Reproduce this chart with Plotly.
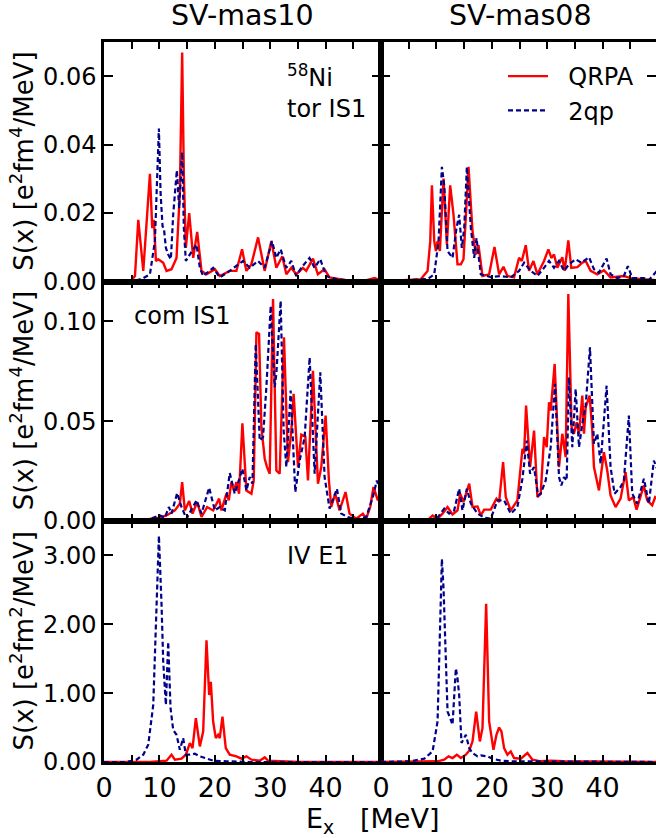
import plotly.graph_objects as go

# ---------------- data: (E_x [MeV], S(x)) ----------------
TOR_MAS10_QRPA = [(0,0),(4.98,0.0004),(5.59,0.0016),(6.19,0.0180),(7.09,0.0031),(8.29,0.0315),(8.71,0.0156),
    (9.01,0.0180),(9.37,0.0060),(9.79,0.0065),(10.69,0.0055),(11.29,0.0031),(12.19,0.0036),(13.09,0.0069),
    (13.69,0.0260),(14.11,0.0669),(14.41,0.0310),(14.77,0.0098),(15.38,0.0200),(16.10,0.0069),(16.82,0.0145),
    (17.60,0.0031),(18.50,0.0021),(20.0,0.0036),(20.9,0.0016),(22.7,0.0031),(23.9,0.0031),(24.92,0.0094),
    (25.7,0.0031),(26.6,0.0050),(27.81,0.0129),(29.0,0.0031),(30.21,0.0118),(31.11,0.0040),(32.19,0.0074),
    (32.91,0.0021),(33.81,0.0040),(34.7,0.0021),(35.9,0.0040),(36.5,0.0031),(37.72,0.0067),(38.6,0.0021),
    (39.8,0.0036),(40.7,0.0012),(43.7,0.0004),(46.7,0.0001),(48.83,0.0010),(49.7,0.0004),(50,0.0003)]
TOR_MAS10_2QP = [(0,0),(5.59,0.0002),(7.09,0.0010),(8.29,0.0021),(9.19,0.0118),(9.61,0.0290),(9.91,0.0447),
    (10.21,0.0260),(10.57,0.0161),(10.81,0.0156),(11.17,0.0098),(11.59,0.0079),(12.07,0.0065),(12.49,0.0195),
    (13.15,0.0325),(13.57,0.0214),(14.11,0.0378),(14.41,0.0156),(14.77,0.0060),(15.5,0.0079),(16.7,0.0108),
    (17.3,0.0040),(17.9,0.0016),(19.7,0.0040),(20.9,0.0012),(22.7,0.0031),(25.1,0.0060),(26.3,0.0040),
    (27.8,0.0060),(29.0,0.0040),(30.33,0.0118),(31.1,0.0069),(31.89,0.0094),(32.9,0.0040),(33.8,0.0060),
    (34.7,0.0016),(35.6,0.0040),(37.1,0.0069),(38.0,0.0040),(39.04,0.0065),(40.1,0.0016),(41.9,0.0007),
    (44.9,0.0002),(49.1,0.0004),(50,0.0003)]
TOR_MAS08_QRPA = [(0,0),(7.21,0.0007),(8.41,0.0031),(8.89,0.0118),(9.19,0.0281),(9.61,0.0118),(9.91,0.0089),
    (10.21,0.0118),(10.63,0.0089),(11.29,0.0301),(11.89,0.0108),(12.49,0.0281),(13.09,0.0195),(13.81,0.0050),
    (14.41,0.0050),(14.89,0.0065),(15.80,0.0335),(16.52,0.0147),(17.12,0.0079),(17.60,0.0106),(18.32,0.0016),
    (19.52,0.0021),(20.48,0.0101),(21.32,0.0021),(22.10,0.0043),(22.82,0.0016),(24.02,0.0012),(24.92,0.0069),
    (25.41,0.0060),(26.13,0.0106),(26.73,0.0031),(27.51,0.0060),(28.23,0.0021),(29.43,0.0060),(30.21,0.0094),
    (30.75,0.0069),(31.23,0.0079),(31.83,0.0040),(32.73,0.0071),(33.15,0.0031),(33.81,0.0120),(34.35,0.0040),
    (35.44,0.0042),(36.34,0.0055),(36.94,0.0060),(37.84,0.0031),(39.04,0.0021),(40.24,0.0033),(41.44,0.0012),
    (43.84,0.0016),(45.05,0.0010),(47.45,0.0007),(49.25,0.0004),(50,0.0003)]
TOR_MAS08_2QP = [(0,0),(8.41,0.0007),(9.61,0.0021),(10.39,0.0118),(10.99,0.0335),(11.41,0.0281),(12.01,0.0089),
    (12.91,0.0069),(13.63,0.0156),(14.11,0.0195),(14.59,0.0098),(15.02,0.0156),(15.50,0.0335),(16.22,0.0156),
    (16.82,0.0069),(17.24,0.0127),(18.02,0.0021),(19.82,0.0013),(21.62,0.0016),(23.42,0.0012),(24.92,0.0031),
    (25.83,0.0055),(27.03,0.0031),(28.23,0.0016),(29.43,0.0040),(30.33,0.0060),(31.23,0.0040),(32.13,0.0060),
    (33.03,0.0031),(33.93,0.0050),(35.14,0.0065),(36.16,0.0055),(37.54,0.0071),(38.44,0.0036),(39.34,0.0026),
    (40.72,0.0067),(41.44,0.0021),(42.64,0.0010),(43.84,0.0016),(44.56,0.0045),(45.35,0.0010),(47.45,0.0010),
    (48.35,0.0004),(49.25,0.0021),(50,0.0035)]

COM_MAS10_QRPA = [(0,0),(5.29,0),(8.29,0.0010),(10.09,0.0017),(11.29,0.0028),(12.79,0.0053),(13.69,0.0087),
    (14.11,0.0195),(14.59,0.0053),(15.38,0.0100),(15.98,0.0037),(16.82,0.0095),(17.60,0.0020),(18.62,0.0070),
    (19.70,0.0053),(20.78,0.0112),(21.20,0.0053),(22.10,0.0137),(22.52,0.0103),(23.00,0.0195),(23.48,0.0153),
    (23.90,0.0195),(24.38,0.0137),(24.98,0.0490),(25.71,0.0153),(26.61,0.0137),(27.03,0.0203),(27.51,0.0945),
    (27.99,0.0937),(28.41,0.0470),(29.01,0.0312),(29.43,0.0270),(29.91,0.0237),(30.51,0.1112),(31.11,0.0253),
    (31.71,0.0237),(32.49,0.0920),(33.21,0.0295),(33.81,0.0453),(34.23,0.0637),(35.02,0.0270),(35.62,0.0433),
    (36.34,0.0423),(36.82,0.0203),(37.72,0.0753),(38.62,0.0187),(39.22,0.0270),(40.00,0.0528),(40.60,0.0203),
    (41.02,0.0070),(41.74,0.0137),(42.52,0.0053),(43.60,0.0145),(44.32,0.0037),(45.53,0.0012),(46.73,0.0037),
    (47.33,0.0012),(48.05,0.0070),(48.65,0.0170),(49.43,0.0103),(50,0.0128)]
COM_MAS10_2QP = [(0,0),(5.29,0),(8.29,0.0010),(10.09,0.0028),(10.99,0.0017),(11.71,0.0070),(12.19,0.0037),
    (13.21,0.0140),(13.99,0.0070),(14.89,0.0012),(16.70,0.0103),(17.60,0.0037),(18.98,0.0167),(20.00,0.0053),
    (20.90,0.0070),(21.80,0.0053),(22.70,0.0240),(23.60,0.0137),(24.98,0.0262),(25.71,0.0153),(26.31,0.0220),
    (26.79,0.0187),(27.39,0.0887),(28.11,0.0403),(28.71,0.0420),(29.31,0.0670),(30.09,0.1078),(30.81,0.0670),
    (31.11,0.0737),(31.89,0.1103),(32.43,0.0453),(32.91,0.0270),(33.69,0.0653),(34.53,0.0145),(35.32,0.0303),
    (36.22,0.0420),(37.12,0.0820),(38.02,0.0237),(39.04,0.0745),(39.82,0.0220),(40.72,0.0062),(42.04,0.0162),
    (42.82,0.0037),(44.02,0.0020),(45.53,0.0007),(47.33,0.0020),(48.53,0.0120),(49.25,0.0203),(50,0.0137)]
COM_MAS08_QRPA = [(0,0),(8.41,0.0003),(9.31,0.0028),(10.21,0.0012),(11.11,0.0037),(12.01,0.0070),(12.91,0.0033),
    (13.81,0.0053),(14.29,0.0137),(14.89,0.0095),(15.92,0.0187),(16.52,0.0070),(17.42,0.0073),(18.02,0.0028),
    (18.62,0.0057),(19.82,0.0057),(20.84,0.0112),(21.32,0.0095),(22.04,0.0295),(22.52,0.0120),(23.42,0.0053),
    (24.62,0.0103),(25.53,0.0362),(25.83,0.0337),(26.19,0.0578),(26.91,0.0270),(27.63,0.0453),(28.23,0.0120),
    (28.83,0.0137),(29.43,0.0420),(29.91,0.0370),(30.33,0.0595),(30.63,0.0553),(31.35,0.0787),(32.13,0.0270),
    (32.73,0.0437),(33.33,0.0320),(33.81,0.1137),(34.41,0.0470),(34.83,0.0437),(35.32,0.0495),(35.74,0.0437),
    (36.34,0.0628),(36.64,0.0437),(36.94,0.0570),(37.66,0.0628),(38.14,0.0453),(38.44,0.0270),(39.34,0.0153),
    (40.24,0.0345),(40.84,0.0253),(41.44,0.0128),(42.34,0.0070),(43.24,0.0112),(44.14,0.0245),(44.74,0.0103),
    (45.53,0.0120),(46.13,0.0057),(47.45,0.0178),(48.05,0.0103),(48.95,0.0078),(49.49,0.0120),(50,0.0110)]
COM_MAS08_2QP = [(0,0),(8.41,0.0003),(10.21,0.0017),(11.41,0.0062),(12.31,0.0037),(13.21,0.0053),(14.11,0.0162),
    (14.71,0.0053),(15.50,0.0162),(16.22,0.0087),(17.42,0.0037),(18.62,0.0017),(19.82,0.0012),(21.02,0.0103),
    (22.22,0.0103),(23.42,0.0037),(24.62,0.0070),(25.53,0.0212),(26.31,0.0403),(26.91,0.0237),(27.63,0.0270),
    (28.35,0.0128),(28.83,0.0137),(29.73,0.0203),(30.63,0.0370),(31.41,0.0687),(32.13,0.0220),(32.55,0.0178),
    (33.03,0.0220),(33.51,0.0203),(33.93,0.0720),(34.53,0.0370),(35.14,0.0662),(35.74,0.0370),(36.34,0.0487),
    (36.94,0.0578),(37.72,0.0870),(38.44,0.0387),(39.04,0.0437),(39.64,0.0287),(40.72,0.0678),(41.44,0.0270),
    (42.16,0.0137),(43.24,0.0170),(43.84,0.0203),(44.74,0.0528),(45.35,0.0137),(46.25,0.0087),(47.45,0.0212),
    (48.35,0.0087),(49.25,0.0303),(50,0.0250)]

E1_MAS10_QRPA = [(0,0),(8.29,0),(11.29,0.019),(12.19,0.106),(12.79,0.034),(13.99,0.048),(14.77,0.106),
    (15.50,0.275),(15.98,0.202),(16.58,0.636),(17.30,0.227),(17.90,0.443),(18.50,1.769),(18.98,0.973),
    (19.28,1.166),(19.70,0.588),(20.18,0.347),(20.60,0.395),(20.90,0.347),(21.38,0.660),(21.98,0.202),
    (22.70,0.106),(23.90,0.082),(24.80,0.048),(25.71,0.082),(26.61,0.034),(28.11,0.019),(29.01,0.067),
    (29.61,0.019),(31.71,0.010),(35.32,0),(50,0)]
E1_MAS10_2QP = [(0,0),(4.08,0),(5.89,0.034),(7.09,0.106),(7.99,0.251),(8.89,0.829),(9.49,2.275),(9.91,3.287),
    (10.39,2.275),(10.69,1.455),(11.17,0.829),(11.59,1.745),(12.01,0.781),(12.49,0.467),(13.09,0.395),
    (13.69,0.178),(14.29,0.347),(14.77,0.106),(15.50,0.106),(16.40,0.120),(17.30,0.082),(18.50,0.048),
    (19.70,0.019),(22.10,0.010),(26.31,0),(50,0)]
E1_MAS08_QRPA = [(0,0),(10.21,0.010),(11.41,0.034),(12.19,0.082),(12.91,0.058),(13.69,0.106),(14.41,0.058),
    (15.32,0.106),(15.92,0.164),(16.52,0.299),(17.18,0.733),(17.84,0.299),(18.32,0.492),(18.98,2.299),
    (19.52,0.588),(20.30,0.178),(20.84,0.395),(21.32,0.501),(21.74,0.443),(22.22,0.202),(22.82,0.106),
    (23.42,0.154),(24.02,0.058),(25.23,0.048),(26.43,0.130),(27.33,0.034),(28.83,0.010),(30.63,0.019),
    (33.03,0.010),(50,0)]
E1_MAS08_2QP = [(0,0),(5.41,0.010),(7.81,0.048),(9.31,0.154),(10.21,0.588),(10.69,2.034),(10.99,2.949),
    (11.29,2.516),(11.59,1.793),(12.01,0.733),(12.49,0.636),(12.91,0.540),(13.51,1.359),(13.81,1.214),
    (14.11,0.973),(14.53,0.275),(15.32,0.395),(15.92,0.202),(16.52,0.130),(17.42,0.082),(18.02,0.096),
    (19.22,0.082),(20.12,0.048),(21.62,0.019),(23.42,0.010),(50,0)]

COLUMN_TITLES = ["SV-mas10", "SV-mas08"]
ROW_YLABELS = ["S(x) [e<sup>2</sup>fm<sup>4</sup>/MeV]", "S(x) [e<sup>2</sup>fm<sup>4</sup>/MeV]",
               "S(x) [e<sup>2</sup>fm<sup>2</sup>/MeV]"]
Y_RANGES = [[0, 0.07], [0, 0.12], [0, 3.5]]
Y_TICKS = [[0, 0.02, 0.04, 0.06], [0, 0.05, 0.10], [0, 1, 2, 3]]
X_TICKS = [0, 10, 20, 30, 40]

PANELS = [  # (row, col, qrpa, 2qp)
    (0, 0, TOR_MAS10_QRPA, TOR_MAS10_2QP), (0, 1, TOR_MAS08_QRPA, TOR_MAS08_2QP),
    (1, 0, COM_MAS10_QRPA, COM_MAS10_2QP), (1, 1, COM_MAS08_QRPA, COM_MAS08_2QP),
    (2, 0, E1_MAS10_QRPA, E1_MAS10_2QP), (2, 1, E1_MAS08_QRPA, E1_MAS08_2QP),
]

# ---------------- layout geometry ----------------
W, H = 656, 838
ML, MR, MT, MB = 104, 0, 42, 76
PW, PH = W - ML - MR, H - MT - MB
COL_SPLIT = 277 / PW
X_DOMAINS = [[0, COL_SPLIT], [COL_SPLIT, 1]]
ROW_EDGES = [42, 281.5, 521, 762]
Y_DOMAINS = [[(762 - ROW_EDGES[r + 1]) / PH, (762 - ROW_EDGES[r]) / PH] for r in range(3)]
X_RANGES = [[0, 50], [0, 50 * (PW - 277) / 277]]

RED = "#ff0000"
BLUE = "#00008b"
FONT = "DejaVu Sans"

fig = go.Figure()
layout = {}
for r, c, qrpa, twoqp in PANELS:
    k = r * 2 + c + 1
    xa, ya = f"x{k}", f"y{k}"
    first = (k == 1)
    fig.add_trace(go.Scatter(x=[p[0] for p in qrpa], y=[p[1] for p in qrpa], mode="lines",
                             line=dict(color=RED, width=2.4), name="\u00a0\u00a0QRPA", showlegend=first,
                             legendrank=1, xaxis=xa, yaxis=ya))
    fig.add_trace(go.Scatter(x=[p[0] for p in twoqp], y=[p[1] for p in twoqp], mode="lines",
                             line=dict(color=BLUE, width=2.2, dash="5px,3px"), name="\u00a0\u00a02qp",
                             showlegend=first, legendrank=2, xaxis=xa, yaxis=ya))
    suffix = "" if k == 1 else str(k)
    layout["xaxis" + suffix] = dict(
        domain=X_DOMAINS[c], range=X_RANGES[c], anchor=ya, tickvals=X_TICKS, automargin=False,
        showticklabels=(r == 2), ticks="inside", ticklen=7, tickwidth=1.5, tickcolor="black",
        minor=dict(dtick=5, tick0=0, ticks="inside", ticklen=7, tickwidth=1.5, tickcolor="black"),
        showline=True, linewidth=2.5, linecolor="black", mirror="ticks",
        showgrid=False, zeroline=False, tickfont=dict(size=27, family=FONT, color="black"))
    layout["yaxis" + suffix] = dict(
        domain=Y_DOMAINS[r], range=Y_RANGES[r], anchor=xa, tickvals=Y_TICKS[r], tickformat=".2f",
        automargin=False,
        showticklabels=(c == 0), ticks="inside", ticklen=9, tickwidth=1.5, tickcolor="black",
        showline=True, linewidth=2.5, linecolor="black", mirror="ticks",
        showgrid=False, zeroline=False, tickfont=dict(size=24, family=FONT, color="black"))

annotations = []
for c, t in enumerate(COLUMN_TITLES):
    xc = [242, 520][c]
    annotations.append(dict(text=t, xref="paper", yref="paper", x=(xc - ML) / PW, y=(762 - 16) / PH,
                            showarrow=False, xanchor="center", yanchor="middle",
                            font=dict(size=28.5, family=FONT, color="black")))
for r, lab in enumerate(ROW_YLABELS):
    yc = (ROW_EDGES[r] + ROW_EDGES[r + 1]) / 2
    annotations.append(dict(text=lab, xref="paper", yref="paper", x=(22 - ML) / PW, y=(762 - yc) / PH,
                            showarrow=False, xanchor="center", yanchor="middle", textangle=-90,
                            font=dict(size=26, family=FONT, color="black")))
annotations.append(dict(text="E<sub>x</sub>\u00a0\u00a0\u00a0[MeV]", xref="paper", yref="paper",
                        x=(372 - ML) / PW, y=(762 - 820) / PH, showarrow=False,
                        xanchor="center", yanchor="middle", font=dict(size=27, family=FONT, color="black")))
for txt, px, py in [("<sup>58</sup>Ni", 285, 76), ("tor IS1", 285, 109), ("com IS1", 132, 316), ("IV E1", 285, 556)]:
    annotations.append(dict(text=txt, xref="paper", yref="paper", x=(px - ML) / PW, y=(762 - py) / PH,
                            showarrow=False, xanchor="left", yanchor="middle",
                            font=dict(size=24, family=FONT, color="black")))

fig.update_layout(
    template="none",
    width=W, height=H, margin=dict(l=ML, r=MR, t=MT, b=MB, autoexpand=False),
    paper_bgcolor="white", plot_bgcolor="white",
    font=dict(family=FONT, size=24, color="black"),
    legend=dict(x=(503 - ML) / PW, y=(762 - 54) / PH, xanchor="left", yanchor="top",
                bgcolor="rgba(0,0,0,0)", borderwidth=0, itemwidth=40,
                font=dict(size=24, family=FONT, color="black")),
    annotations=annotations,
    **layout,
)
fig.write_html("out.html", config={"displayModeBar": False},
               post_script="document.body.style.margin='0px';document.body.style.overflow='hidden';")
